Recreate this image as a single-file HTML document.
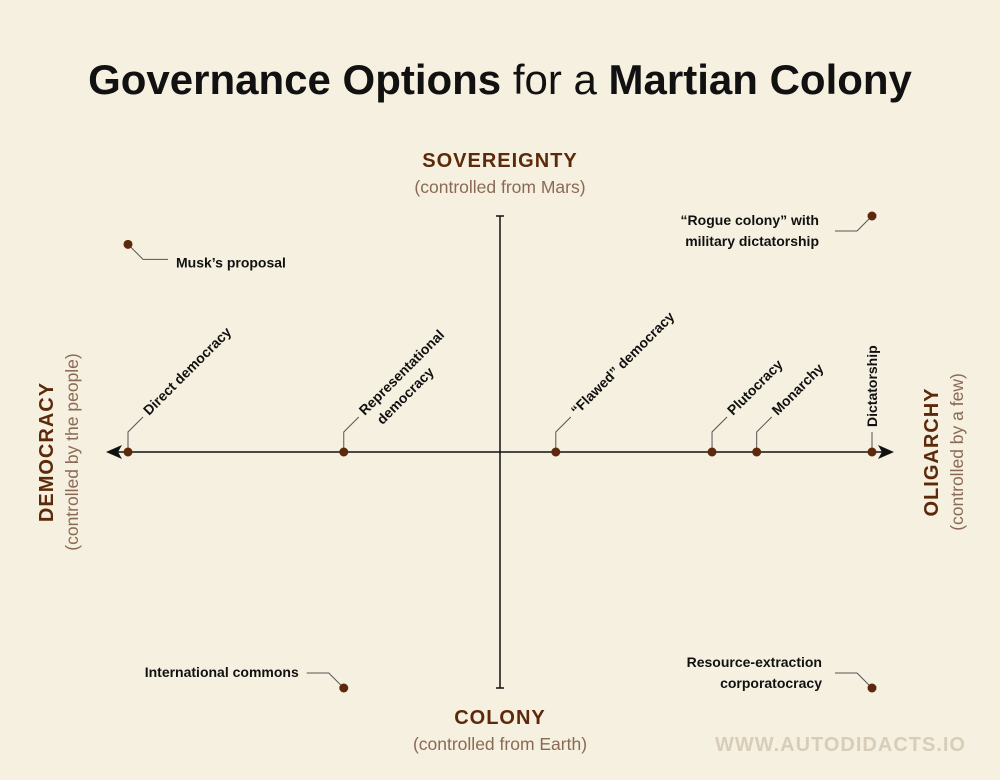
<!DOCTYPE html>
<html><head><meta charset="utf-8"><style>
body{margin:0;background:#f6f0e0;}
svg{display:block;font-family:"Liberation Sans","DejaVu Sans",sans-serif;}
</style></head><body>
<svg width="1000" height="780" viewBox="0 0 1000 780">
<rect width="1000" height="780" fill="#f6f0e0"/>
<text x="500" y="94" text-anchor="middle" font-size="42" font-weight="bold" fill="#111">Governance Options <tspan font-weight="normal">for a</tspan> Martian Colony</text>
<text x="500" y="167" text-anchor="middle" font-size="20" font-weight="bold" fill="#5c2a0a" letter-spacing="1">SOVEREIGNTY</text>
<text x="500" y="193" text-anchor="middle" font-size="17.5" fill="#8a6a55">(controlled from Mars)</text>
<text x="500" y="724" text-anchor="middle" font-size="20" font-weight="bold" fill="#5c2a0a" letter-spacing="1">COLONY</text>
<text x="500" y="750" text-anchor="middle" font-size="17.5" fill="#8a6a55">(controlled from Earth)</text>
<g transform="translate(53,452) rotate(-90)"><text text-anchor="middle" font-size="20" font-weight="bold" fill="#5c2a0a" letter-spacing="1">DEMOCRACY</text>
<text y="25" text-anchor="middle" font-size="17.5" fill="#8a6a55">(controlled by the people)</text></g>
<g transform="translate(938,452) rotate(-90)"><text text-anchor="middle" font-size="20" font-weight="bold" fill="#5c2a0a" letter-spacing="1">OLIGARCHY</text>
<text y="25" text-anchor="middle" font-size="17.5" fill="#8a6a55">(controlled by a few)</text></g>
<text x="966" y="751" text-anchor="end" font-size="20" font-weight="bold" fill="#d8cdb8" letter-spacing="1">WWW.AUTODIDACTS.IO</text>
<g id="plot"></g>
</svg>
<script>
const axisNames=["Direct democracy","Representational democracy","“Flawed” democracy","Plutocracy","Monarchy","Dictatorship"];
const axisValues=[-1,-0.42,0.15,0.57,0.69,1.0];
const cornerNames=["Musk’s proposal","“Rogue colony” with|military dictatorship","International  commons","Resource-extraction|corporatocracy"];
const cornerX=[-1,1,-0.42,1];
const cornerY=[0.88,1,-1,-1];
const NS="http://www.w3.org/2000/svg";
const g=document.getElementById('plot');
const cx=500,cy=452,sx=372,sy=236;
const X=v=>cx+v*sx, Y=v=>cy-v*sy;
function mk(t,a,p){const e=document.createElementNS(NS,t);for(const k in a)e.setAttribute(k,a[k]);(p||g).appendChild(e);return e;}
let l=mk('line',{x1:X(-1)-14,y1:cy,x2:X(1)+14,y2:cy,stroke:'#111','stroke-width':1.5});


l=mk('line',{x1:cx,y1:Y(1),x2:cx,y2:Y(-1),stroke:'#111','stroke-width':1.5});


mk('line',{x1:cx-4,y1:Y(1),x2:cx+4,y2:Y(1),stroke:'#111','stroke-width':1.5});
mk('line',{x1:cx-4,y1:Y(-1),x2:cx+4,y2:Y(-1),stroke:'#111','stroke-width':1.5});
mk('path',{d:`M${X(-1)-22},${cy} L${X(-1)-6},${cy-7} L${X(-1)-10},${cy} L${X(-1)-6},${cy+7}Z`,fill:'#111'});
mk('path',{d:`M${X(1)+22},${cy} L${X(1)+6},${cy-7} L${X(1)+10},${cy} L${X(1)+6},${cy+7}Z`,fill:'#111'});
axisNames.forEach((n,i)=>{
  const x=X(axisValues[i]);
  const grp=mk('g',{});
  
  
  if(i===axisNames.length-1){
    mk('line',{x1:x,y1:cy,x2:x,y2:cy-20,stroke:'#555','stroke-width':1},grp);
    const t=mk('text',{transform:`translate(${x+5},${cy-25}) rotate(-90)`,'font-size':14,'font-weight':'bold',fill:'#111'},grp);t.textContent=n;
  }else{
    mk('polyline',{points:`${x},${cy} ${x},${cy-20} ${x+15},${cy-35}`,fill:'none',stroke:'#555','stroke-width':1},grp);
    const parts=n==="Representational democracy"?["Representational","democracy"]:[n];
    const t=mk('text',{transform:`translate(${x+21},${cy-36}) rotate(-45)`,'font-size':14,'font-weight':'bold',fill:'#111'},grp);
    parts.forEach((p,j)=>{const s=mk('tspan',{x:j?6:0,dy:j?19:0},t);s.textContent=p;});
  }
  mk('circle',{cx:x,cy:cy,r:4.5,fill:'#5c2a0a'},grp);
});
cornerNames.forEach((n,i)=>{
  const x=X(cornerX[i]),y=Y(cornerY[i]);
  const grp=mk('g',{});
  
  
  const lines=n.split('|');
  const left=x<cx?(cornerX[i]<-0.5):false;
  if(left){
    mk('polyline',{points:`${x},${y} ${x+15},${y+15} ${x+40},${y+15}`,fill:'none',stroke:'#555',"stroke-width":1},grp);
    const t=mk('text',{x:x+48,y:y+23,'font-size':14,'font-weight':'bold',fill:'#111'},grp);t.textContent=lines[0];
  }else if(x<cx){
    mk('polyline',{points:`${x},${y} ${x-15},${y-15} ${x-37},${y-15}`,fill:'none',stroke:'#555',"stroke-width":1},grp);
    const t=mk('text',{x:x-45,y:y-11,'font-size':14,'font-weight':'bold',fill:'#111','text-anchor':'end'},grp);t.textContent=lines[0];
  }else if(cornerY[i]>0){
    mk('polyline',{points:`${x},${y} ${x-15},${y+15} ${x-37},${y+15}`,fill:'none',stroke:'#555',"stroke-width":1},grp);
    const t=mk('text',{x:x-53,y:y+9,'font-size':14,'font-weight':'bold',fill:'#111','text-anchor':'end'},grp);
    lines.forEach((p,j)=>{const s=mk('tspan',{x:x-53,dy:j?21:0},t);s.textContent=p;});
  }else{
    mk('polyline',{points:`${x},${y} ${x-15},${y-15} ${x-37},${y-15}`,fill:'none',stroke:'#555',"stroke-width":1},grp);
    const t=mk('text',{x:x-50,y:y-21,'font-size':14,'font-weight':'bold',fill:'#111','text-anchor':'end'},grp);
    lines.forEach((p,j)=>{const s=mk('tspan',{x:x-50,dy:j?21:0},t);s.textContent=p;});
  }
  mk('circle',{cx:x,cy:y,r:4.5,fill:'#5c2a0a'},grp);
});
</script>
</body></html>
